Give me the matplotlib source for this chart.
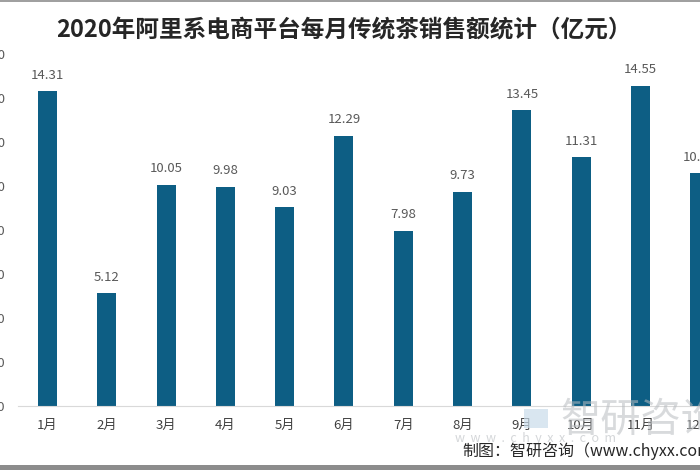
import matplotlib
matplotlib.use("Agg")
import matplotlib.pyplot as plt
from matplotlib.patches import Rectangle

plt.rcParams['font.family'] = ['Noto Sans CJK SC', 'DejaVu Sans']

months = ["1月", "2月", "3月", "4月", "5月", "6月", "7月", "8月", "9月", "10月", "11月", "12月"]
sales = [14.31, 5.12, 10.05, 9.98, 9.03, 12.29, 7.98, 9.73, 13.45, 11.31, 14.55, 10.58]
yticks = [0, 2, 4, 6, 8, 10, 12, 14, 16]
title = "2020年阿里系电商平台每月传统茶销售额统计（亿元）"
source = "制图：智研咨询（www.chyxx.com）"

fig = plt.figure(figsize=(7, 4.7), dpi=100)
ax = fig.add_axes([0.0255, 0.136, 1.0165, 0.758])

x = list(range(len(months)))
bars = ax.bar(x, sales, width=0.32, color="#0d5e84", zorder=2)
for xi, v in zip(x, sales):
    ax.annotate(f"{v:.2f}", (xi, v), xytext=(0, 7), textcoords="offset points",
                ha="center", va="bottom", fontsize=9.5, color="#595959")

ax.set_xlim(-0.5, len(months) - 0.5)
ax.set_ylim(0, 16.2)
ax.set_yticks(yticks)
ax.set_yticklabels([f"{t:.2f}" for t in yticks])
ax.set_xticks(x)
ax.set_xticklabels(months)
ax.tick_params(axis="both", length=0, colors="#595959", labelsize=9.5)
ax.tick_params(axis="y", pad=9)
ax.tick_params(axis="x", pad=9, labelcolor="#404040")
for s in ["top", "right", "left"]:
    ax.spines[s].set_visible(False)
ax.spines["bottom"].set_color("#d9d9d9")

fig.text(0.492, 0.936, title, ha="center", va="center", fontsize=17,
         fontweight="bold", color="#262626")

# watermark
fig.text(0.80, 0.105, "智研咨询", ha="left", va="center", fontsize=29,
         color="#b8bcc0", alpha=0.55)
fig.text(0.65, 0.068, "w  w  w  .  c  h  y  x  x  .  c  o  m", ha="left", va="center",
         fontsize=9, color="#b8bcc0", alpha=0.6)
fig.patches.append(Rectangle((0.748, 0.09), 0.035, 0.04, transform=fig.transFigure,
                             facecolor="#c9dcea", alpha=0.7, edgecolor="none"))

fig.text(0.66, 0.022, source, ha="left", va="bottom", fontsize=11.5, color="#262626")

# screenshot borders
fig.patches.append(Rectangle((0, 0.996), 1, 0.004, transform=fig.transFigure,
                             facecolor="#a0a0a0", edgecolor="none"))
fig.patches.append(Rectangle((0, 0), 1, 0.01, transform=fig.transFigure,
                             facecolor="#8c8c8c", edgecolor="none"))

fig.savefig("out.png", dpi=100)
